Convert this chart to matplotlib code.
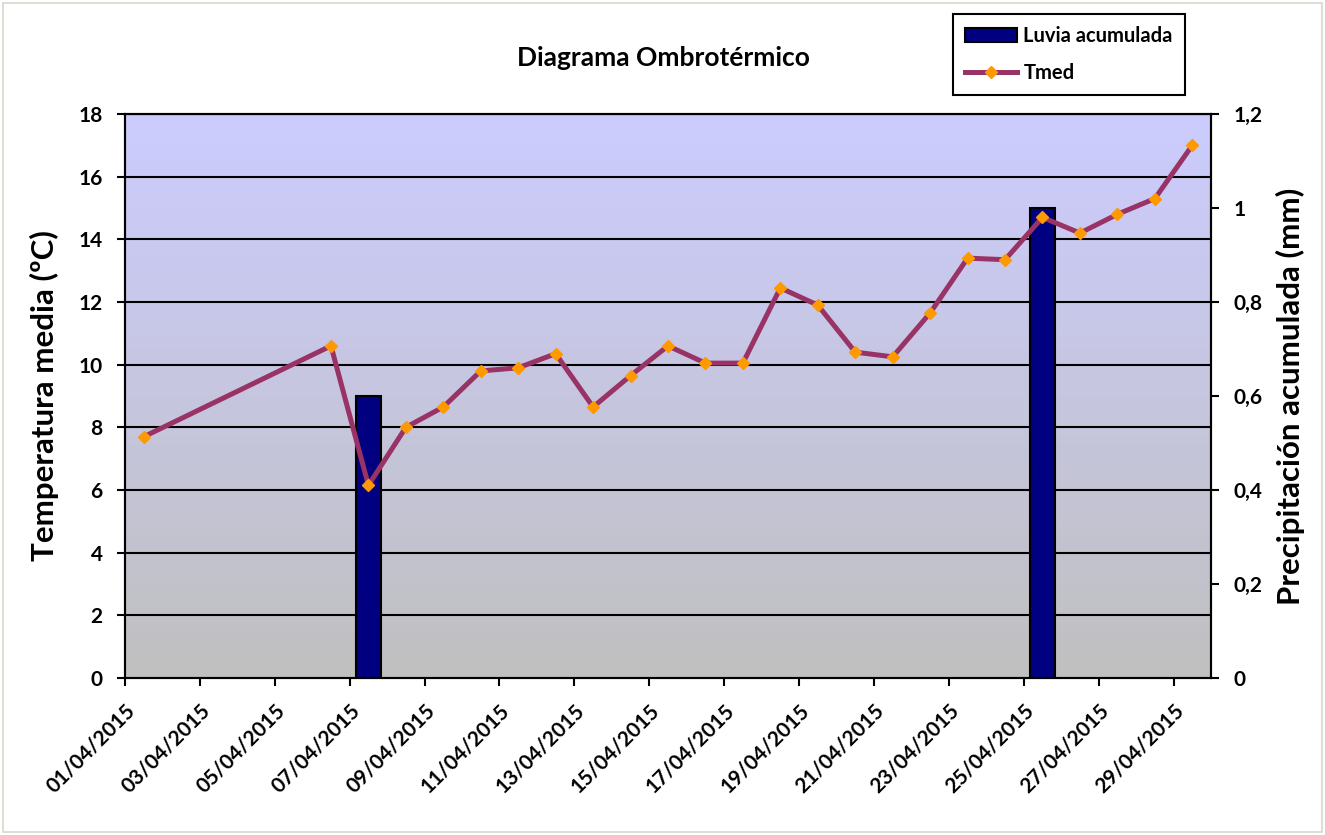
import matplotlib
matplotlib.use("Agg")
import matplotlib.pyplot as plt
import matplotlib.dates as mdates
import numpy as np
from datetime import datetime, timedelta

plt.rcParams['font.family'] = ['Lato', 'DejaVu Sans']
plt.rcParams['font.weight'] = 'bold'

# temperatura media diaria
t_dates = ["01/04/2015", "06/04/2015", "07/04/2015", "08/04/2015", "09/04/2015",
           "10/04/2015", "11/04/2015", "12/04/2015", "13/04/2015", "14/04/2015",
           "15/04/2015", "16/04/2015", "17/04/2015", "18/04/2015", "19/04/2015",
           "20/04/2015", "21/04/2015", "22/04/2015", "23/04/2015", "24/04/2015",
           "25/04/2015", "26/04/2015", "27/04/2015", "28/04/2015", "29/04/2015"]
tmed = [7.7, 10.6, 6.15, 8.0, 8.65, 9.8, 9.9, 10.35, 8.65, 9.65,
        10.6, 10.05, 10.05, 12.45, 11.9, 10.4, 10.25, 11.65, 13.4, 13.35,
        14.7, 14.2, 14.8, 15.3, 17.0]

# lluvia acumulada
p_dates = ["07/04/2015", "25/04/2015"]
lluvia = [0.6, 1.0]

def to_day(s):
    return datetime.strptime(s, "%d/%m/%Y")

half = timedelta(hours=12)
tx = [to_day(s) + half for s in t_dates]
px = [to_day(s) + half for s in p_dates]

fig = plt.figure(figsize=(13.25, 8.35), dpi=100)
ax = fig.add_axes([125/1325, 1-678/835, (1211-125)/1325, (678-114)/835])
axp = ax.twinx()
ax.set_zorder(axp.get_zorder() + 1)
ax.patch.set_visible(False)

# fondo degradado
grad = np.linspace(0, 1, 256).reshape(-1, 1)
top = np.array([204, 204, 255]) / 255
bot = np.array([192, 192, 192]) / 255
img = top[None, None, :] * (1 - grad[:, :, None]) + bot[None, None, :] * grad[:, :, None]
axp.imshow(img, extent=[0, 1, 0, 1], transform=axp.transAxes, aspect='auto', zorder=0)

ax.set_ylim(0, 18)
ax.set_yticks(range(0, 19, 2))
axp.set_ylim(0, 1.2)
axp.set_yticks(np.arange(0, 1.21, 0.2))
axp.set_yticklabels(["0", "0,2", "0,4", "0,6", "0,8", "1", "1,2"])

# lineas de division del eje de temperatura, detras de las barras
axp.hlines(range(2, 19, 2), 0, 1, transform=ax.get_yaxis_transform(),
           colors='black', lw=1.5, zorder=1)

axp.bar(px, lluvia, width=0.65, color='#000080', edgecolor='black', lw=1.5,
        zorder=2, label='Luvia acumulada')

ax.plot(tx, tmed, color='#993366', lw=3.6, marker='D', markersize=6.5,
        markerfacecolor='#FF9900', markeredgecolor='#FF9900', label='Tmed', zorder=3)

ax.set_xlim(to_day("01/04/2015"), to_day("30/04/2015"))
xt = [to_day("01/04/2015") + timedelta(days=2 * i) for i in range(15)]
ax.set_xticks(xt)
ax.xaxis.set_major_formatter(mdates.DateFormatter("%d/%m/%Y"))
for lab in ax.get_xticklabels():
    lab.set_rotation(45)
    lab.set_ha('right')
    lab.set_rotation_mode('anchor')

for a in (ax, axp):
    a.tick_params(axis='both', direction='out', length=6, width=1.5,
                  labelsize=15, colors='black')
    for s in a.spines.values():
        s.set_linewidth(1.5)
        s.set_color('black')
ax.tick_params(axis='x', pad=10)
ax.tick_params(axis='y', pad=10)
axp.tick_params(axis='y', pad=10)
for lab in ax.get_yticklabels() + axp.get_yticklabels() + ax.get_xticklabels():
    lab.set_fontweight('bold')

ax.set_ylabel("Temperatura media (ºC)", fontsize=22.5, fontweight='bold', labelpad=14)
axp.set_ylabel("Precipitación acumulada (mm)", fontsize=22.5, fontweight='bold', labelpad=10)

fig.text(663/1325, 1-58/835, "Diagrama Ombrotérmico", ha='center', va='center',
         fontsize=19, fontweight='bold')

h1, l1 = axp.get_legend_handles_labels()
h2, l2 = ax.get_legend_handles_labels()
leg = fig.legend(h1 + h2, l1 + l2, loc='upper left',
                 bbox_to_anchor=(953/1325, 1-14/835), fancybox=False,
                 edgecolor='black', framealpha=1, fontsize=14.5,
                 handlelength=2.6, borderpad=0.6, labelspacing=0.85, handletextpad=0.3,
                 borderaxespad=0)
leg.get_frame().set_linewidth(1.5)
for t in leg.get_texts():
    t.set_fontweight('bold')

fig.patches.append(plt.Rectangle((3/1325, 3/835), 1-6/1325, 1-6/835,
                                 transform=fig.transFigure, fill=False,
                                 edgecolor='#D8D8D0', lw=1.2))

fig.savefig("out.png", dpi=100)
